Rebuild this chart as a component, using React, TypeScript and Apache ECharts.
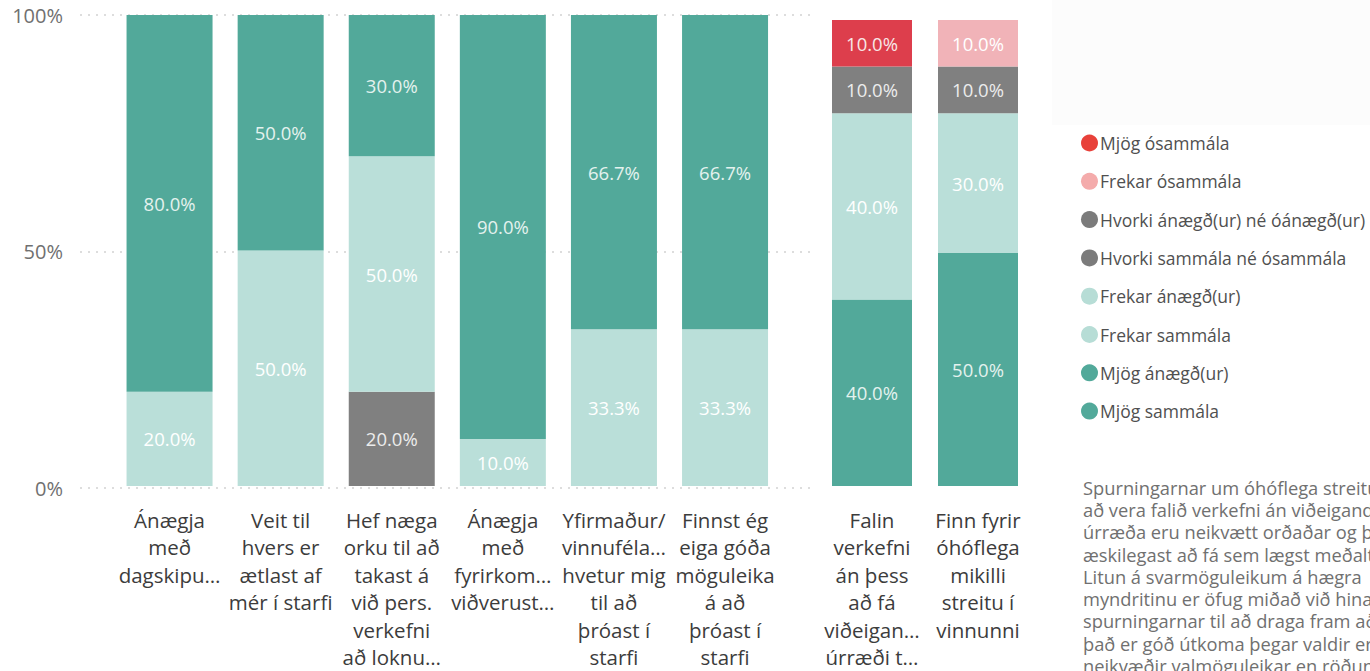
import React, { useEffect, useRef } from "react";
import * as echarts from "echarts";

// ---- data ----
const leftCategories = [
  "Ánægja\nmeð\ndagskipu…",
  "Veit til\nhvers er\nætlast af\nmér í starfi",
  "Hef næga\norku til að\ntakast á\nvið pers.\nverkefni\nað loknu…",
  "Ánægja\nmeð\nfyrirkom…\nviðverust…",
  "Yfirmaður/\nvinnuféla…\nhvetur mig\ntil að\nþróast í\nstarfi",
  "Finnst ég\neiga góða\nmöguleika\ná að\nþróast í\nstarfi",
];
const rightCategories = [
  "Falin\nverkefni\nán þess\nað fá\nviðeigan…\núrræði t…",
  "Finn fyrir\nóhóflega\nmikilli\nstreitu í\nvinnunni",
];
const yTicks = [0, 50, 100];

// left chart (stacked bottom -> top)
const hvorkiAnaegd = [0, null, null, 0, null, null];
const hvorkiSammala = [null, 0, 20, null, 0, 0];
const frekarAnaegd = [20, null, null, 10, null, null];
const frekarSammala = [null, 50, 50, null, 33.3, 33.3];
const mjogAnaegd = [80, null, null, 90, null, null];
const mjogSammala = [null, 50, 30, null, 66.7, 66.7];

// right chart (stacked bottom -> top)
const rMjogSammala = [40, 50];
const rFrekarSammala = [40, 30];
const rHvorki = [10, 10];
const rFrekarOsammala = [0, 10];
const rMjogOsammala = [10, 0];

const legendNames = [
  "Mjög ósammála",
  "Frekar ósammála",
  "Hvorki ánægð(ur) né óánægð(ur)",
  "Hvorki sammála né ósammála",
  "Frekar ánægð(ur)",
  "Frekar sammála",
  "Mjög ánægð(ur)",
  "Mjög sammála",
];
const legendColors = ["#e8413a", "#f4abab", "#7b7b7b", "#7b7b7b", "#b7ddd6", "#b7ddd6", "#52a99a", "#52a99a"];

const noteLines = [
  "Spurningarnar um óhóflega streitu og",
  "að vera falið verkefni án viðeigandi",
  "úrræða eru neikvætt orðaðar og því",
  "æskilegast að fá sem lægst meðaltal.",
  "Litun á svarmöguleikum á hægra",
  "myndritinu er öfug miðað við hinar",
  "spurningarnar til að draga fram að",
  "það er góð útkoma þegar valdir eru",
  "neikvæðir valmöguleikar en röðun",
];

const TEAL = "#52a99a";
const LIGHT = "#badfd9";
const GREY = "#808080";
const RED = "#dd3e4c";
const PINK = "#f1b3b8";
const FONT = "'Open Sans', 'Noto Sans', sans-serif";

export default function App() {
  const ref = useRef<HTMLDivElement>(null);
  useEffect(() => {
    if (!ref.current) return;
    const chart = echarts.init(ref.current, undefined, { renderer: "svg" });

    const label = (color: string) => ({
      show: true,
      position: "inside",
      color,
      fontSize: 18.5,
      fontFamily: FONT,
      formatter: (p: any) => (p.value ? Number(p.value).toFixed(1) + "%" : ""),
    });
    const leftBar = (name: string, data: any[], color: string, lc: string) => ({
      name,
      type: "bar",
      stack: "L",
      xAxisIndex: 1,
      yAxisIndex: 1,
      barWidth: 86,
      data,
      itemStyle: { color },
      label: label(lc),
    });
    const rightBar = (name: string, data: any[], color: string, lc: string) => ({
      name,
      type: "bar",
      stack: "R",
      xAxisIndex: 2,
      yAxisIndex: 2,
      barWidth: 80,
      data,
      itemStyle: { color },
      label: label(lc),
    });

    const xLabel = {
      color: "#3c3c3c",
      fontSize: 20.5,
      lineHeight: 27.5,
      fontFamily: FONT,
      margin: 20,
      interval: 0,
    };

    chart.setOption({
      animation: false,
      textStyle: { fontFamily: FONT },
      grid: [
        { left: 80, right: 555, top: 15, bottom: 183 },
        { left: 114, right: 589.4, top: 15, bottom: 183 },
        { left: 819, right: 339, top: 20, bottom: 184 },
      ],
      xAxis: [
        { gridIndex: 0, type: "value", show: false, min: 0, max: 1 },
        {
          gridIndex: 1,
          type: "category",
          data: leftCategories,
          axisLine: { show: false },
          axisTick: { show: false },
          axisLabel: xLabel,
        },
        {
          gridIndex: 2,
          type: "category",
          data: rightCategories,
          axisLine: { show: false },
          axisTick: { show: false },
          axisLabel: xLabel,
        },
      ],
      yAxis: [
        {
          gridIndex: 0,
          type: "value",
          min: yTicks[0],
          max: yTicks[yTicks.length - 1],
          interval: 50,
          axisLine: { show: false },
          axisTick: { show: false },
          axisLabel: { formatter: "{value}%", color: "#707070", fontSize: 20, margin: 17, fontFamily: FONT },
          splitLine: { lineStyle: { color: "#d2d2d2", type: [2, 6], width: 1.5 } },
        },
        { gridIndex: 1, type: "value", min: 0, max: 100, show: false },
        { gridIndex: 2, type: "value", min: 0, max: 100, show: false },
      ],
      legend: {
        orient: "vertical",
        left: 1076,
        top: 129,
        itemWidth: 17,
        itemHeight: 17,
        itemGap: 20.3,
        icon: "circle",
        selectedMode: false,
        textStyle: { color: "#505050", fontSize: 17.5, fontFamily: FONT, padding: [0, 0, 0, -3] },
        data: legendNames.map((n, i) => ({ name: n, itemStyle: { color: legendColors[i] } })),
      },
      graphic: [
        {
          type: "rect",
          shape: { x: 1052, y: 0, width: 318, height: 125 },
          style: { fill: "#fcfcfc" },
          z: -10,
        },
        {
          type: "text",
          left: 1083,
          top: 476,
          style: {
            text: noteLines.join("\n"),
            fill: "#707070",
            fontSize: 18.3,
            lineHeight: 22.3,
            fontFamily: FONT,
          },
        },
      ],
      series: [
        leftBar("Hvorki ánægð(ur) né óánægð(ur)", hvorkiAnaegd, GREY, "#ececec"),
        leftBar("Hvorki sammála né ósammála", hvorkiSammala, GREY, "#ececec"),
        leftBar("Frekar ánægð(ur)", frekarAnaegd, LIGHT, "#ffffff"),
        leftBar("Frekar sammála", frekarSammala, LIGHT, "#ffffff"),
        leftBar("Mjög ánægð(ur)", mjogAnaegd, TEAL, "#e4f2ee"),
        leftBar("Mjög sammála", mjogSammala, TEAL, "#e4f2ee"),
        rightBar("Mjög sammála", rMjogSammala, TEAL, "#e4f2ee"),
        rightBar("Frekar sammála", rFrekarSammala, LIGHT, "#ffffff"),
        rightBar("Hvorki sammála né ósammála", rHvorki, GREY, "#ececec"),
        rightBar("Frekar ósammála", rFrekarOsammala, PINK, "#ffffff"),
        rightBar("Mjög ósammála", rMjogOsammala, RED, "#f8e6e6"),
      ],
    });
    return () => chart.dispose();
  }, []);

  return (
    <div
      ref={ref}
      style={{ position: "fixed", left: 0, top: 0, width: 1370, height: 671, background: "#ffffff" }}
    />
  );
}
